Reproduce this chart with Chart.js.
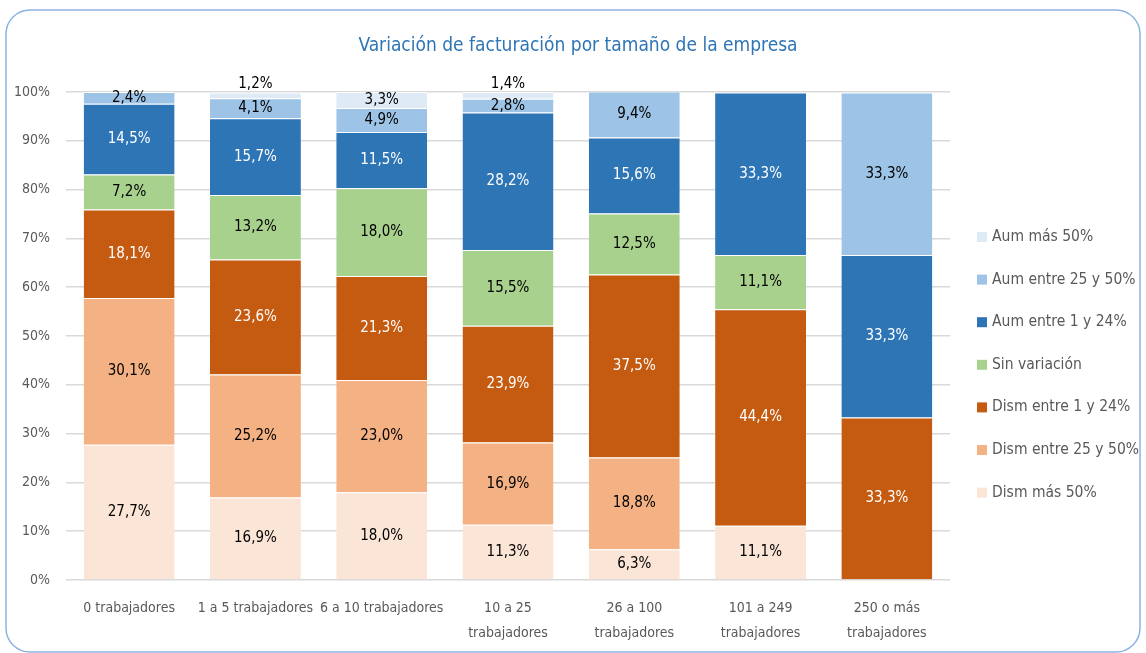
<!DOCTYPE html>
<html>
<head>
<meta charset="utf-8">
<script src="https://cdn.jsdelivr.net/npm/chart.js@4"></script>
<style>
  body { margin: 0; background: #fff; }
</style>
</head>
<body>
<canvas id="chart" width="1146" height="653"></canvas>
<script>
const categories = [
    '0 trabajadores',
    '1 a 5 trabajadores',
    '6 a 10 trabajadores',
    ['10 a 25', 'trabajadores'],
    ['26 a 100', 'trabajadores'],
    ['101 a 249', 'trabajadores'],
    ['250 o más', 'trabajadores']
];

// bottom to top of each bar
const dismMas50 = [27.7, 16.9, 18.0, 11.3, 6.3, 11.1, 0];
const dism25a50 = [30.1, 25.2, 23.0, 16.9, 18.8, 0, 0];
const dism1a24 = [18.1, 23.6, 21.3, 23.9, 37.5, 44.4, 33.3];
const sinVariacion = [7.2, 13.2, 18.0, 15.5, 12.5, 11.1, 0];
const aum1a24 = [14.5, 15.7, 11.5, 28.2, 15.6, 33.3, 33.3];
const aum25a50 = [2.4, 4.1, 4.9, 2.8, 9.4, 0, 33.3];
const aumMas50 = [0, 1.2, 3.3, 1.4, 0, 0, 0];

const yTicks = [0, 10, 20, 30, 40, 50, 60, 70, 80, 90, 100];

const titleText = 'Variación de facturación por tamaño de la empresa';

const FONT = '"Liberation Sans Narrow", "DejaVu Sans Condensed", sans-serif';

const series = [
    { label: 'Dism más 50%', data: dismMas50, color: '#FBE5D6', text: '#000' },
    { label: 'Dism entre 25 y 50%', data: dism25a50, color: '#F4B183', text: '#000' },
    { label: 'Dism entre 1 y 24%', data: dism1a24, color: '#C55A11', text: '#fff' },
    { label: 'Sin variación', data: sinVariacion, color: '#A9D18E', text: '#000' },
    { label: 'Aum entre 1 y 24%', data: aum1a24, color: '#2E75B6', text: '#fff' },
    { label: 'Aum entre 25 y 50%', data: aum25a50, color: '#9DC3E6', text: '#000' },
    { label: 'Aum más 50%', data: aumMas50, color: '#DEEBF7', text: '#000' }
];

// frame and title
const framePlugin = {
    id: 'frame',
    beforeDraw(chart) {
        const ctx = chart.ctx;
        ctx.save();
        ctx.strokeStyle = '#8DB3E2';
        ctx.lineWidth = 1.5;
        ctx.beginPath();
        ctx.roundRect(6, 10, 1134, 642, 24);
        ctx.stroke();
        ctx.font = '19px ' + FONT;
        ctx.fillStyle = '#2E75B6';
        ctx.textAlign = 'center';
        ctx.textBaseline = 'middle';
        ctx.fillText(titleText, 578, 46);
        ctx.restore();
    }
};

// value labels inside the segments
const valueLabels = {
    id: 'valueLabels',
    afterDatasetsDraw(chart) {
        const ctx = chart.ctx;
        ctx.save();
        ctx.font = '15px ' + FONT;
        ctx.textAlign = 'center';
        ctx.textBaseline = 'middle';
        chart.data.datasets.forEach((ds, i) => {
            const meta = chart.getDatasetMeta(i);
            meta.data.forEach((bar, j) => {
                const v = ds.data[j];
                if (!v) return;
                let y = (bar.y + bar.base) / 2;
                if (v < 2) y = bar.y - 8;
                ctx.fillStyle = series[i].text;
                ctx.fillText(v.toFixed(1).replace('.', ',') + '%', bar.x, y);
            });
        });
        ctx.restore();
    }
};

// legend on the right, top item = last series
const sideLegend = {
    id: 'sideLegend',
    afterDraw(chart) {
        const ctx = chart.ctx;
        ctx.save();
        ctx.font = '15.5px ' + FONT;
        ctx.textBaseline = 'middle';
        ctx.textAlign = 'left';
        const items = chart.data.datasets.slice().reverse();
        items.forEach((ds, k) => {
            const y = 237 + k * 42.6;
            ctx.fillStyle = ds.backgroundColor;
            ctx.fillRect(977, y - 5, 10, 10);
            ctx.fillStyle = '#595959';
            ctx.fillText(ds.label, 992, y);
        });
        ctx.restore();
    }
};

new Chart(document.getElementById('chart'), {
    type: 'bar',
    data: {
        labels: categories,
        datasets: series.map(s => ({
            label: s.label,
            data: s.data,
            backgroundColor: s.color,
            borderColor: '#ffffff',
            borderWidth: { top: 1 },
            categoryPercentage: 1,
            barPercentage: 0.72
        }))
    },
    options: {
        responsive: false,
        animation: false,
        layout: { padding: { left: 0, right: 196, top: 92, bottom: 0 } },
        plugins: {
            legend: { display: false },
            tooltip: { enabled: false },
            title: { display: false }
        },
        scales: {
            x: {
                stacked: true,
                grid: { display: false },
                border: { display: false },
                ticks: {
                    color: '#595959',
                    font: { family: FONT, size: 14, lineHeight: 1.78 },
                    padding: 8,
                    maxRotation: 0,
                    autoSkip: false
                },
                afterFit(scale) { scale.height = 73; }
            },
            y: {
                stacked: true,
                min: 0,
                max: 100,
                afterBuildTicks(scale) {
                    scale.ticks = yTicks.map(v => ({ value: v }));
                },
                grid: { color: '#D9D9D9', lineWidth: 1.5, drawTicks: false },
                border: { display: false },
                ticks: {
                    color: '#595959',
                    font: { family: FONT, size: 14 },
                    padding: 16,
                    callback: v => v + '%'
                },
                afterFit(scale) { scale.width = 66; }
            }
        }
    },
    plugins: [framePlugin, valueLabels, sideLegend]
});
</script>
</body>
</html>
